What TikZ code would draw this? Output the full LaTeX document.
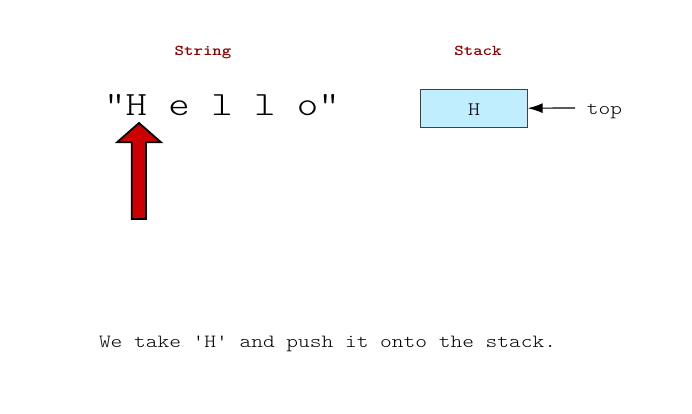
\documentclass[tikz,border=0pt]{standalone}
\usepackage{fontspec}
\newfontfamily\cour[FakeStretch=1.2]{lmmonolt10-regular.otf}
\newfontfamily\courb[FakeStretch=1.2]{lmmonolt10-bold.otf}
\usetikzlibrary{arrows.meta}
\definecolor{titlered}{HTML}{8B0000}
\definecolor{arrowred}{HTML}{CC0000}
\definecolor{boxblue}{HTML}{C0EEFF}
\begin{document}
\begin{tikzpicture}[x=1pt,y=-1pt,
  title/.style={font=\courb\fontsize{15}{17}\selectfont, text=titlered, inner sep=0pt, anchor=base},
  bigtext/.style={font=\cour\fontsize{34}{38}\selectfont, inner sep=0pt, anchor=base},
  normaltext/.style={font=\cour\fontsize{18.6}{21}\selectfont, inner sep=0pt, anchor=base},
  stackcell/.style={draw=black!75, fill=boxblue, minimum width=107pt, minimum height=37.7pt, inner sep=0pt, line width=0.8pt},
  pushshape/.style={draw=black, fill=arrowred, line width=1.8pt, line join=miter},
  ptr/.style={-{Latex[length=15pt,width=10pt]}, line width=1.2pt}
]
\useasboundingbox (0,0) rectangle (692,413);
\node[title] (strtitle) at (203,55) {String};
\node[title] (stktitle) at (478,55) {Stack};
\node[bigtext] (hello) at (222,115) {"H e l l o"};
\draw[pushshape] (139,123) -- (161,142.3) -- (146,142.3) -- (146,219) -- (131.7,219) -- (131.7,142.3) -- (117,142.3) -- cycle;
\node[stackcell] (cell) at (473.8,108.2) {};
\node[normaltext, font=\cour\fontsize{19}{21}\selectfont] (cellH) at (474,115) {H};
\node[normaltext] (top) at (604.5,114) {top};
\coordinate (ptrstart) at (575,108);
\draw[ptr] (ptrstart) -- (cell.east);
\node[normaltext] (caption) at (327.5,347) {We take 'H' and push it onto the stack.};
\end{tikzpicture}
\end{document}
